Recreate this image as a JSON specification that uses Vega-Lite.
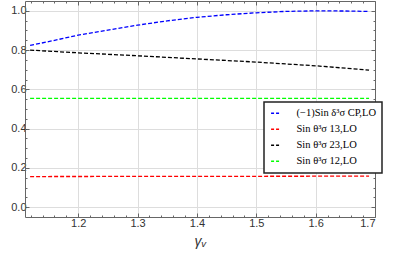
{
  "$schema": "https://vega.github.io/schema/vega-lite/v6.json",
  "autosize": "none",
  "width": 350,
  "height": 216,
  "padding": {"left": 25, "top": 1, "right": 42, "bottom": 44},
  "background": "white",
  "config": {
    "view": {"stroke": null},
    "axis": {"labelFont": "Liberation Sans", "labelFontSize": 11, "labelColor": "#333333", "domainColor": "#666666", "tickColor": "#666666", "gridColor": "#dddddd", "gridWidth": 1}
  },
  "data": {"values": [
    {"x": 1.119, "y": 0.824, "s": "blue"},
    {"x": 1.15, "y": 0.843, "s": "blue"},
    {"x": 1.2, "y": 0.876, "s": "blue"},
    {"x": 1.25, "y": 0.902, "s": "blue"},
    {"x": 1.3, "y": 0.927, "s": "blue"},
    {"x": 1.35, "y": 0.949, "s": "blue"},
    {"x": 1.4, "y": 0.967, "s": "blue"},
    {"x": 1.45, "y": 0.980, "s": "blue"},
    {"x": 1.5, "y": 0.990, "s": "blue"},
    {"x": 1.55, "y": 0.997, "s": "blue"},
    {"x": 1.6, "y": 1.0, "s": "blue"},
    {"x": 1.65, "y": 0.999, "s": "blue"},
    {"x": 1.69, "y": 0.997, "s": "blue"},
    {"x": 1.119, "y": 0.156, "s": "red"},
    {"x": 1.4, "y": 0.157, "s": "red"},
    {"x": 1.69, "y": 0.158, "s": "red"},
    {"x": 1.119, "y": 0.800, "s": "black"},
    {"x": 1.2, "y": 0.786, "s": "black"},
    {"x": 1.3, "y": 0.771, "s": "black"},
    {"x": 1.4, "y": 0.755, "s": "black"},
    {"x": 1.5, "y": 0.739, "s": "black"},
    {"x": 1.6, "y": 0.720, "s": "black"},
    {"x": 1.69, "y": 0.698, "s": "black"},
    {"x": 1.119, "y": 0.554, "s": "green"},
    {"x": 1.4, "y": 0.554, "s": "green"},
    {"x": 1.69, "y": 0.554, "s": "green"}
  ]},
  "resolve": {"axis": {"x": "independent", "y": "independent"}},
  "layer": [
    {
      "mark": {"type": "line", "opacity": 0},
      "encoding": {
        "x": {"field": "x", "type": "quantitative", "scale": {"domain": [1.1104, 1.7], "nice": false, "zero": false},
              "axis": {"orient": "bottom", "values": [1.12,1.14,1.16,1.18,1.22,1.24,1.26,1.28,1.32,1.34,1.36,1.38,1.42,1.44,1.46,1.48,1.52,1.54,1.56,1.58,1.62,1.64,1.66,1.68], "labels": false, "grid": false, "domain": false, "tickSize": -2, "title": null}},
        "y": {"field": "y", "type": "quantitative", "scale": {"domain": [-0.05, 1.05], "nice": false, "zero": false},
              "axis": {"orient": "left", "values": [0.05,0.1,0.15,0.25,0.3,0.35,0.45,0.5,0.55,0.65,0.7,0.75,0.85,0.9,0.95], "labels": false, "grid": false, "domain": false, "tickSize": -2, "title": null}},
        "detail": {"field": "s"}
      }
    },
    {
      "mark": {"type": "line", "opacity": 0},
      "encoding": {
        "x": {"field": "x", "type": "quantitative",
              "axis": {"orient": "top", "values": [1.12,1.14,1.16,1.18,1.22,1.24,1.26,1.28,1.32,1.34,1.36,1.38,1.42,1.44,1.46,1.48,1.52,1.54,1.56,1.58,1.62,1.64,1.66,1.68], "labels": false, "grid": false, "domain": false, "tickSize": -2, "title": null}},
        "y": {"field": "y", "type": "quantitative",
              "axis": {"orient": "right", "values": [0.05,0.1,0.15,0.25,0.3,0.35,0.45,0.5,0.55,0.65,0.7,0.75,0.85,0.9,0.95], "labels": false, "grid": false, "domain": false, "tickSize": -2, "title": null}},
        "detail": {"field": "s"}
      }
    },
    {
      "mark": {"type": "line", "opacity": 0},
      "encoding": {
        "x": {"field": "x", "type": "quantitative",
              "axis": {"orient": "top", "values": [1.2,1.3,1.4,1.5,1.6,1.7], "labels": false, "grid": false, "tickSize": -4, "title": null}},
        "y": {"field": "y", "type": "quantitative",
              "axis": {"orient": "right", "values": [0,0.2,0.4,0.6,0.8,1.0], "labels": false, "grid": false, "tickSize": -4, "title": null}},
        "detail": {"field": "s"}
      }
    },
    {
      "mark": {"type": "line", "strokeDash": [4, 2], "strokeWidth": 1.3},
      "encoding": {
        "x": {"field": "x", "type": "quantitative",
              "axis": {"orient": "bottom", "values": [1.2,1.3,1.4,1.5,1.6,1.7], "format": ".1f", "grid": true, "tickSize": -4, "labelPadding": 4,
                       "title": "γᵥ", "titleFont": "Liberation Sans", "titleFontStyle": "italic", "titleFontWeight": "normal", "titleFontSize": 14, "titleColor": "#333333", "titlePadding": 6}},
        "y": {"field": "y", "type": "quantitative",
              "axis": {"orient": "left", "values": [0,0.2,0.4,0.6,0.8,1.0], "format": ".1f", "grid": true, "tickSize": -4, "labelPadding": 3, "title": null}},
        "color": {"field": "s", "type": "nominal",
                  "scale": {"domain": ["blue", "red", "black", "green"], "range": ["#0000ff", "#ff0000", "#000000", "#00ff00"]},
                  "legend": {
                    "orient": "none", "legendX": 239, "legendY": 101, "title": null,
                    "labelExpr": "datum.value == 'blue' ? '(−1)Sin δ³σ CP,LO' : datum.value == 'red' ? 'Sin θ³σ 13,LO' : datum.value == 'black' ? 'Sin θ³σ 23,LO' : 'Sin θ³σ 12,LO'",
                    "labelFont": "Liberation Serif", "labelFontSize": 10.5, "labelColor": "#000000", "labelOffset": 16,
                    "symbolType": "stroke", "symbolSize": 70, "symbolStrokeWidth": 1.5, "symbolDash": [3, 2],
                    "rowPadding": 5, "padding": 6, "strokeColor": "#222222", "fillColor": "white",
                    "encode": {"legend": {"update": {"strokeWidth": {"value": 1.5}}}}
                  }}
      }
    }
  ]
}
